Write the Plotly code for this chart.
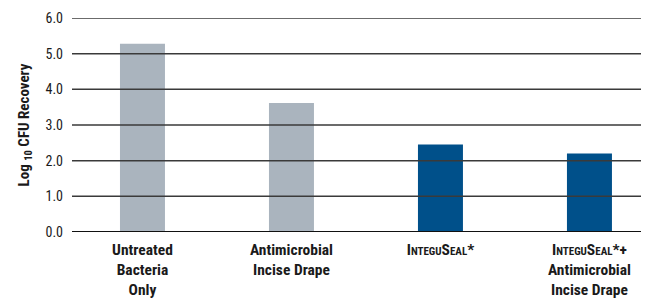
import plotly.graph_objects as go

categories = [
    "Untreated<br>Bacteria<br>Only",
    "Antimicrobial<br>Incise Drape",
    "I<span style='font-size:11px'>NTEGU</span>S<span style='font-size:11px'>EAL</span>*",
    "I<span style='font-size:11px'>NTEGU</span>S<span style='font-size:11px'>EAL</span>*+<br>Antimicrobial<br>Incise Drape",
]
values = [5.28, 3.62, 2.45, 2.20]
colors = ["#aab4be", "#aab4be", "#00508a", "#00508a"]
y_ticks = [0, 1, 2, 3, 4, 5, 6]
y_ticktext = ["0.0", "1.0", "2.0", "3.0", "4.0", "5.0", "6.0"]
x_idx = list(range(len(values)))

FONT = "Liberation Sans Narrow, Roboto Condensed, Arial Narrow, sans-serif"

fig = go.Figure(go.Bar(
    x=x_idx, y=values, marker_color=colors, width=0.302,
    marker_line_width=0, hoverinfo="skip",
))

# gridlines drawn above the bars, as in the reference
for t in y_ticks:
    fig.add_shape(
        type="line", xref="paper", x0=0, x1=1, yref="y", y0=t, y1=t,
        line=dict(color="#111111" if t == 0 else "#3a3a3a", width=2 if t == 0 else 1.5),
        layer="above",
    )

fig.update_layout(
    width=646, height=302,
    margin=dict(l=72, r=5, t=18, b=70),
    paper_bgcolor="white", plot_bgcolor="white",
    showlegend=False,
    font=dict(family=FONT, size=14, color="#1a1a1a"),
)
fig.update_xaxes(
    range=[-0.473, 3.346], tickvals=x_idx, ticktext=categories,
    tickfont=dict(family=FONT, size=15.5, color="#1a1a1a", weight="bold"),
    showgrid=False, zeroline=False, showline=False, ticks="",
    automargin=False, ticklabelstandoff=6,
)
fig.update_yaxes(
    range=[0, 6], tickvals=y_ticks, ticktext=y_ticktext,
    tickfont=dict(family=FONT, size=14, color="#1a1a1a"),
    showgrid=False, zeroline=False, ticks="", ticklabelstandoff=8,
    automargin=False,
    title=dict(text="<b>Log <sub>10</sub> CFU Recovery</b>",
               font=dict(family=FONT, size=15, color="#1a1a1a"), standoff=12),
)
fig.write_html("out.html", config={"displayModeBar": False},
               post_script="document.body.style.margin='0';")
